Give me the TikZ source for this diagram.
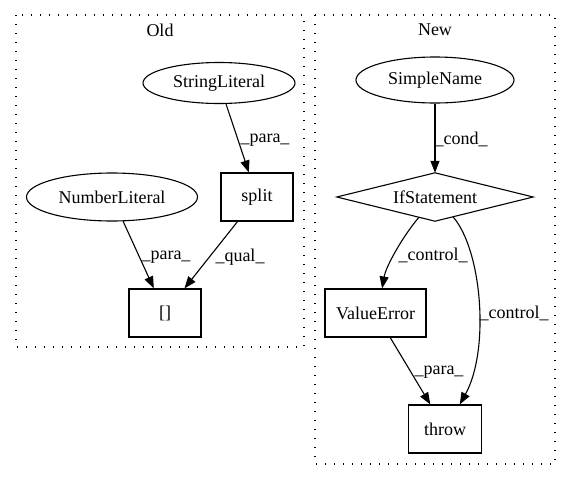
\documentclass[tikz,border=0pt]{standalone}
\usepackage{fontspec}
\setmainfont{Liberation Serif}
\usetikzlibrary{shapes.geometric,calc,arrows.meta}
\begin{document}
\begin{tikzpicture}[x=1pt,y=-1pt,
  every node/.style={font=\fontsize{18}{20}\selectfont, inner sep=0pt},
  ell/.style={draw, ellipse, line width=1.1pt},
  box/.style={draw, rectangle, line width=1.1pt, minimum height=48pt},
  diabox/.style={rectangle, minimum width=196pt, minimum height=48pt},
  edge/.style={line width=1.1pt, -{Triangle[length=12pt,width=9pt]}},
  lbl/.style={fill=none},
  cluster/.style={draw, line width=1.1pt, dash pattern=on 1.4pt off 7.6pt}
]
\useasboundingbox (0,0) rectangle (571,480);

% clusters
\draw[cluster] (16,15) rectangle (304,347);
\draw[cluster] (315,15) rectangle (555,464);
\node (told) at (160,30) {Old};
\node (tnew) at (435,30) {New};

% Old nodes
\node[ell, minimum width=152pt, minimum height=41pt] (sl) at (219,83) {StringLiteral};
\node[ell, minimum width=171pt, minimum height=48pt] (nl) at (112,197) {NumberLiteral};
\node[box, minimum width=72pt] (split) at (257,197) {split};
\node[box, minimum width=72pt] (br) at (165,313) {[]};

% New nodes
\node[ell, minimum width=158pt, minimum height=46pt] (sn) at (435,80) {SimpleName};
\node[diabox] (if) at (435,197) {IfStatement};
\draw[line width=1.1pt] (if.north) -- (if.east) -- (if.south) -- (if.west) -- cycle;
\node[box, minimum width=101pt] (ve) at (375.5,313) {ValueError};
\node[box, minimum width=73pt] (th) at (445,429) {throw};

% Old edges
\draw[edge] (sl) -- (split);
\draw[edge] (nl) -- (br);
\draw[edge] (split) -- (br);
\node[lbl] (l1) at (265,140) {\_para\_};
\node[lbl] (l2) at (166,257) {\_para\_};
\node[lbl] (l3) at (240,257) {\_qual\_};

% New edges
\draw[edge] (sn) -- (if.north);
\draw[edge] ($(if.south)+(-16,-4)$) .. controls (403,236) and (386,266) .. (ve.75);
\draw[edge] ($(if.south)+(18,-4.4)$) .. controls (482,250) and (490,350) .. (th.59);
\draw[edge] (ve) -- (th);
\node[lbl] (l4) at (461,139) {\_cond\_};
\node[lbl] (l5) at (433,255) {\_control\_};
\node[lbl] (l6) at (514,313) {\_control\_};
\node[lbl] (l7) at (439,372) {\_para\_};
\end{tikzpicture}
\end{document}
